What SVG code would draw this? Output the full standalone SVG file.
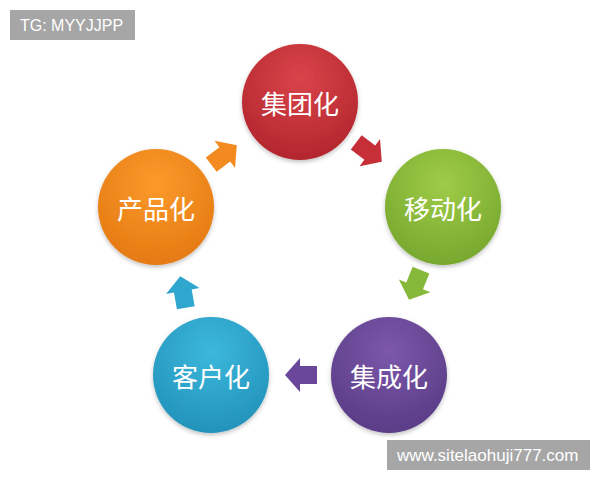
<svg xmlns="http://www.w3.org/2000/svg" width="600" height="480" viewBox="0 0 600 480">
<defs>
<radialGradient id="gr" cx="50%" cy="30%" r="70%"><stop offset="0" stop-color="#d9444a"/><stop offset="1" stop-color="#b3262d"/></radialGradient>
<radialGradient id="gg" cx="50%" cy="30%" r="70%"><stop offset="0" stop-color="#9fcc48"/><stop offset="1" stop-color="#77a82e"/></radialGradient>
<radialGradient id="gp" cx="50%" cy="30%" r="70%"><stop offset="0" stop-color="#7c58ab"/><stop offset="1" stop-color="#5a3c86"/></radialGradient>
<radialGradient id="gb" cx="50%" cy="30%" r="70%"><stop offset="0" stop-color="#3cb8dc"/><stop offset="1" stop-color="#2393bb"/></radialGradient>
<radialGradient id="go" cx="50%" cy="30%" r="70%"><stop offset="0" stop-color="#fb9a2c"/><stop offset="1" stop-color="#e57a12"/></radialGradient>
<filter id="sh" x="-20%" y="-20%" width="140%" height="140%"><feDropShadow dx="0" dy="2" stdDeviation="2" flood-color="#000" flood-opacity="0.25"/></filter>
<path id="arr" d="M-16,-9 L1,-9 L1,-17 L16,0 L1,17 L1,9 L-16,9 Z"/>
</defs>
<style>
.lbl{font-family:"Noto Sans CJK SC","Noto Sans",sans-serif;font-size:26px;fill:#fff;text-anchor:middle;dominant-baseline:central}
.tag{font-family:"Liberation Sans",Arial,sans-serif;font-size:16px;fill:#fff}
</style>
<rect width="600" height="480" fill="#fff"/>
<g id="connectors">
<use href="#arr" fill="#c62f37" transform="translate(369,152) rotate(37)"/>
<use href="#arr" fill="#86b93a" transform="translate(415,285) rotate(112)"/>
<use href="#arr" fill="#6a479b" transform="translate(301,375) rotate(180)"/>
<use href="#arr" fill="#2ea6cd" transform="translate(183,292) rotate(-100)"/>
<use href="#arr" fill="#f28a20" transform="translate(224,155) rotate(-37)"/>
</g>
<g id="n1"><circle cx="300" cy="102" r="58" fill="url(#gr)" filter="url(#sh)"/><text class="lbl" x="300" y="102">集团化</text></g>
<g id="n2"><circle cx="443" cy="207" r="58" fill="url(#gg)" filter="url(#sh)"/><text class="lbl" x="443" y="207">移动化</text></g>
<g id="n3"><circle cx="389" cy="375" r="58" fill="url(#gp)" filter="url(#sh)"/><text class="lbl" x="389" y="375">集成化</text></g>
<g id="n4"><circle cx="211" cy="375" r="58" fill="url(#gb)" filter="url(#sh)"/><text class="lbl" x="211" y="375">客户化</text></g>
<g id="n5"><circle cx="156" cy="207" r="58" fill="url(#go)" filter="url(#sh)"/><text class="lbl" x="156" y="207">产品化</text></g>
<g id="tag1"><rect x="10" y="10" width="125" height="30" fill="#a6a6a6"/><text class="tag" x="20" y="31">TG: MYYJJPP</text></g>
<g id="tag2"><rect x="387" y="440" width="203" height="30" fill="#a6a6a6"/><text class="tag" x="397" y="461" style="font-size:17px">www.sitelaohuji777.com</text></g>
</svg>
